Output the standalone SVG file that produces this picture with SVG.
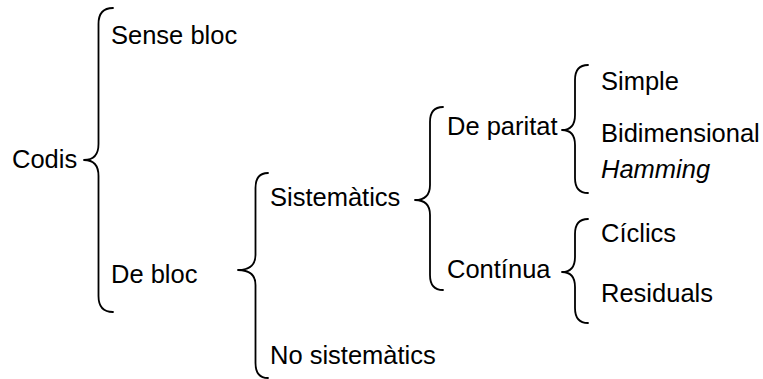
<svg xmlns="http://www.w3.org/2000/svg" width="763" height="379" viewBox="0 0 763 379">
  <style>
    .lbl { font-family: "Liberation Sans", Arial, sans-serif; font-size: 25.5px; fill: #000; }
    .it { font-style: italic; }
    .brace { fill: none; stroke: #000; stroke-width: 1.8; stroke-linecap: round; stroke-linejoin: round; }
  </style>
  <rect width="763" height="379" fill="#fff"/>

  <!-- braces joining each parent to its children -->
  <g id="connectors">
    <path class="brace" d="M113,8 Q98.5,8 98.5,24 L98.5,144 Q98.5,160 84,160 Q98.5,160 98.5,176 L98.5,296 Q98.5,312 113,312"/>
    <path class="brace" d="M268,173 Q255.5,173 255.5,188 L255.5,255 Q255.5,270 238,270 Q255.5,270 255.5,285 L255.5,363 Q255.5,378 268,378"/>
    <path class="brace" d="M443,107 Q430,107 430,122 L430,185 Q430,200 415,200 Q430,200 430,215 L430,275 Q430,290 443,290"/>
    <path class="brace" d="M588,65 Q575,65 575,80 L575,115 Q575,130 562,130 Q575,130 575,145 L575,178 Q575,193 588,193"/>
    <path class="brace" d="M588,219 Q575,219 575,234 L575,257 Q575,272 562,272 Q575,272 575,287 L575,308 Q575,323 588,323"/>
  </g>

  <g id="codis"><text class="lbl" x="12" y="168">Codis</text></g>
  <g id="sense-bloc"><text class="lbl" x="111" y="44">Sense bloc</text></g>
  <g id="de-bloc"><text class="lbl" x="111" y="283">De bloc</text></g>
  <g id="sistematics"><text class="lbl" x="270" y="206">Sistemàtics</text></g>
  <g id="no-sistematics"><text class="lbl" x="270" y="364">No sistemàtics</text></g>
  <g id="de-paritat"><text class="lbl" x="447" y="135">De paritat</text></g>
  <g id="continua"><text class="lbl" x="447" y="278">Contínua</text></g>
  <g id="simple"><text class="lbl" x="601" y="90">Simple</text></g>
  <g id="bidimensional"><text class="lbl" x="601" y="142">Bidimensional</text></g>
  <g id="hamming"><text class="lbl it" x="601" y="178">Hamming</text></g>
  <g id="ciclics"><text class="lbl" x="601" y="242">Cíclics</text></g>
  <g id="residuals"><text class="lbl" x="601" y="302">Residuals</text></g>
</svg>
